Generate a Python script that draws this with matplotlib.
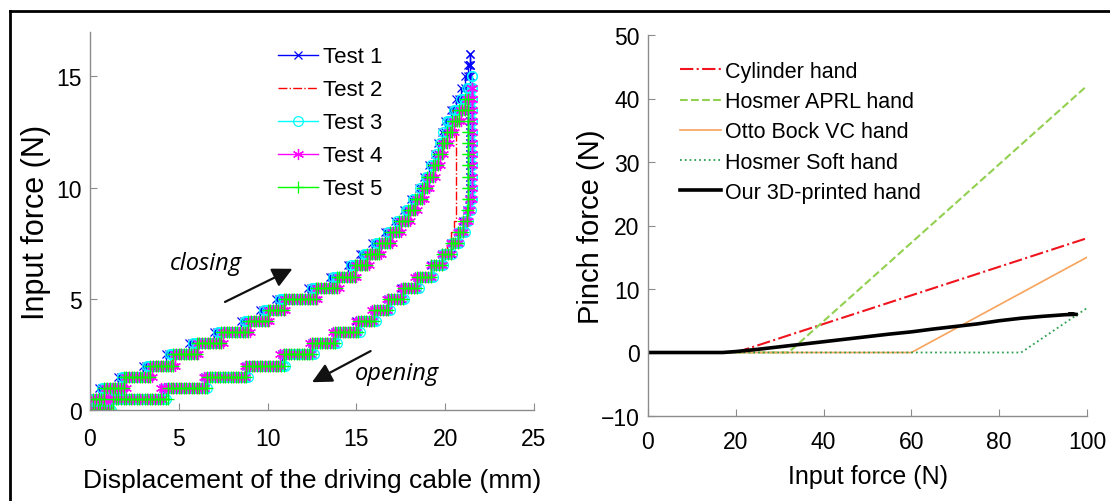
import numpy as np
import matplotlib.pyplot as plt
from matplotlib.lines import Line2D

plt.rcParams['font.family'] = ['Liberation Sans', 'DejaVu Sans']

# ---- left panel: cable displacement (mm) where each 0.5 N force step starts
force_levels = [0.0, 0.5, 1.0, 1.5, 2.0, 2.5, 3.0, 3.5, 4.0, 4.5, 5.0, 5.5, 6.0,
                6.5, 7.0, 7.5, 8.0, 8.5, 9.0, 9.5, 10.0, 10.5, 11.0, 11.5, 12.0,
                12.5, 13.0, 13.5, 14.0, 14.5, 15.0, 15.5, 16.0]

# closing: displacement where level 0.5, 1.0, ... starts
t1_close = [0.0, 0.5, 1.6, 3.0, 4.3, 5.6, 7.0, 8.5, 9.6, 10.5, 12.3, 13.5, 14.5,
            15.2, 15.9, 16.6, 17.2, 17.7, 18.1, 18.5, 18.8, 19.1, 19.4, 19.6,
            19.8, 20.0, 20.3, 20.6, 20.9, 21.1, 21.3, 21.4]
t2_close = [0.0, 0.8, 1.9, 3.3, 4.6, 5.9, 7.3, 8.8, 9.9, 10.8, 12.6, 13.8, 14.8,
            15.5, 16.2, 16.9, 17.4, 17.9, 18.3, 18.7, 19.0, 19.3, 19.6, 19.8,
            20.0, 20.2, 20.4]
t3_close = [0.0, 0.7, 1.8, 3.2, 4.5, 5.8, 7.2, 8.7, 9.8, 10.7, 12.5, 13.7, 14.7,
            15.4, 16.1, 16.8, 17.3, 17.8, 18.2, 18.6, 18.9, 19.2, 19.5, 19.7,
            19.9, 20.1, 20.5, 20.9, 21.2, 21.5]
t4_close = [0.0, 0.9, 2.0, 3.5, 4.8, 6.1, 7.5, 9.0, 10.1, 11.0, 12.8, 14.0, 15.0,
            15.7, 16.4, 17.0, 17.5, 18.0, 18.4, 18.8, 19.1, 19.4, 19.7, 19.9,
            20.2, 20.5, 20.9, 21.2, 21.5]
t5_close = [0.0, 0.8, 1.9, 3.4, 4.7, 6.0, 7.4, 8.9, 10.0, 10.9, 12.7, 13.9, 14.9,
            15.6, 16.3, 16.9, 17.4, 17.9, 18.3, 18.7, 19.0, 19.3, 19.6, 19.8,
            20.1, 20.4, 20.8, 21.1]

# opening: displacement where each level (going down from the peak) starts
t1_open = [21.4] * 13 + [21.35, 21.25, 21.0, 20.7, 20.3, 19.8, 19.2, 18.4, 17.5,
                         16.8, 16.0, 15.0, 13.8, 12.5, 10.8, 8.8, 6.5, 4.1, 0.9]
t2_open = [20.6] * 9 + [20.6, 20.5, 20.3, 20.1, 19.8, 19.3, 18.5, 17.6, 16.9,
                        16.1, 15.1, 13.9, 12.6, 10.9, 8.9, 6.6, 4.3, 1.1]
t3_open = [21.5] * 11 + [21.45, 21.3, 21.1, 20.8, 20.4, 19.9, 19.3, 18.5, 17.7,
                         16.9, 16.1, 15.2, 13.9, 12.6, 11.0, 8.9, 6.6, 4.3, 1.2]
t4_open = [21.5] * 10 + [21.4, 21.3, 21.0, 20.7, 20.3, 19.8, 19.2, 18.3, 17.5,
                         16.7, 15.9, 15.0, 13.7, 12.4, 10.7, 8.7, 6.4, 4.0, 1.0]
t5_open = [21.3] * 9 + [21.3, 21.2, 21.0, 20.7, 20.3, 19.8, 19.2, 18.4, 17.6,
                        16.8, 16.0, 15.1, 13.8, 12.5, 10.9, 8.8, 6.6, 4.4, 1.3]

# ---- right panel
cyl_x, cyl_y = [0, 20, 100], [0, 0, 18]
aprl_x, aprl_y = [0, 32, 100], [0, 0, 42]
otto_x, otto_y = [0, 60, 100], [0, 0, 15]
soft_x, soft_y = [0, 85, 100], [0, 0, 7]
ours_x = [0, 10, 17, 20, 25, 30, 35, 40, 45, 50, 55, 60, 65, 70, 75, 80, 85,
          90, 95, 97, 96, 97.5]
ours_y = [0, 0, 0, 0.15, 0.5, 0.9, 1.3, 1.7, 2.1, 2.5, 2.9, 3.25, 3.7, 4.1,
          4.5, 5.0, 5.4, 5.7, 5.95, 6.0, 6.1, 6.0]


def staircase(close_d, open_d, spacing=0.15):
    n = len(close_d)
    d_pts = close_d + open_d + [0.0]
    f_pts = force_levels[1:n + 1] + force_levels[n - 1::-1] + [0.0]
    xs, ys = [], []
    for i in range(len(d_pts) - 1):
        k = max(2, int(round(abs(d_pts[i + 1] - d_pts[i]) / spacing)) + 1)
        xs.extend(np.linspace(d_pts[i], d_pts[i + 1], k))
        ys.extend([f_pts[i]] * k)
    xs.append(d_pts[-1])
    ys.append(f_pts[-1])
    return xs, ys


fig = plt.figure(figsize=(11.1, 5.02), dpi=100)
ax1 = fig.add_axes([90 / 1110, 1 - 411 / 502, 444 / 1110, 378 / 502])
ax2 = fig.add_axes([648 / 1110, 1 - 417 / 502, 439 / 1110, 381 / 502])

asterisk = (6, 2, 0)
tests = [
    (t1_close, t1_open, 'Test 1', dict(color='#0000ff', marker='x', ms=6, ls='-')),
    (t2_close, t2_open, 'Test 2', dict(color='#ff0000', marker=None, ls='-.')),
    (t3_close, t3_open, 'Test 3', dict(color='#00ffff', marker='o', ms=7, mfc='none', ls='-')),
    (t4_close, t4_open, 'Test 4', dict(color='#ff00ff', marker=asterisk, ms=8, ls='-')),
    (t5_close, t5_open, 'Test 5', dict(color='#00ff00', marker='+', ms=9, ls='-')),
]
for close_d, open_d, name, style in tests:
    xs, ys = staircase(close_d, open_d)
    ax1.plot(xs, ys, lw=1.0, mew=0.9, label=name, **style)

ax1.set_xlim(0, 25)
ax1.set_ylim(0, 17)
ax1.set_xticks([0, 5, 10, 15, 20, 25])
ax1.set_yticks([0, 5, 10, 15])
ax1.set_xlabel('Displacement of the driving cable (mm)', fontsize=19, labelpad=13)
ax1.set_ylabel('Input force (N)', fontsize=22, labelpad=4)
ax1.legend(loc='upper left', bbox_to_anchor=(0.423, 0.962), frameon=False,
           fontsize=16, borderpad=0, borderaxespad=0, handlelength=1.8,
           handletextpad=0.22, labelspacing=0.54)

ax1.text(6.5, 6.6, 'closing', fontsize=17, style='italic', family='Open Sans',
         ha='center', va='center')
ax1.annotate('', xy=(11.4, 6.35), xytext=(7.6, 4.86),
             arrowprops=dict(arrowstyle='-|>', color='#111111', lw=1.6,
                             mutation_scale=30, shrinkA=0, shrinkB=0))
ax1.text(17.3, 1.65, 'opening', fontsize=17, style='italic', family='Open Sans',
         ha='center', va='center')
ax1.annotate('', xy=(12.5, 1.25), xytext=(15.8, 2.65),
             arrowprops=dict(arrowstyle='-|>', color='#111111', lw=1.6,
                             mutation_scale=30, shrinkA=0, shrinkB=0))

ax2.plot(cyl_x, cyl_y, color='#f0141e', ls='-.', lw=1.5, label='Cylinder hand')
ax2.plot(aprl_x, aprl_y, color='#92d050', ls='--', lw=1.5, label='Hosmer APRL hand')
ax2.plot(otto_x, otto_y, color='#f7a35c', ls='-', lw=1.2, label='Otto Bock VC hand')
ax2.plot(soft_x, soft_y, color='#2e9e4f', ls=':', lw=1.3, label='Hosmer Soft hand')
ax2.plot(ours_x, ours_y, color='black', ls='-', lw=2.6, label='Our 3D-printed hand')

ax2.set_xlim(0, 100)
ax2.set_ylim(-10, 50)
ax2.set_xticks([0, 20, 40, 60, 80, 100])
ax2.set_yticks([-10, 0, 10, 20, 30, 40, 50])
ax2.set_xlabel('Input force (N)', fontsize=18, labelpad=8)
ax2.set_ylabel('Pinch force (N)', fontsize=21, labelpad=-3)
ax2.legend(loc='upper left', bbox_to_anchor=(0.073, 0.932), frameon=False,
           fontsize=15.5, borderpad=0, borderaxespad=0, handlelength=1.9,
           handletextpad=0.2, labelspacing=0.43)

for ax in (ax1, ax2):
    for side in ('top', 'right'):
        ax.spines[side].set_visible(False)
    for side in ('left', 'bottom'):
        ax.spines[side].set_color('#8c8c8c')
        ax.spines[side].set_linewidth(1.0)
    ax.tick_params(direction='in', length=5, color='#8c8c8c', labelsize=16.5,
                   labelcolor='black')
    ax.tick_params(axis='y', pad=6)
ax1.tick_params(axis='x', pad=12)
ax2.tick_params(axis='x', pad=10)

# outer frame of the figure
fig.add_artist(Line2D([10 / 1110, 10 / 1110], [0, 1 - 12 / 502],
                      transform=fig.transFigure, color='black', lw=2))
fig.add_artist(Line2D([10 / 1110, 1], [1 - 12 / 502, 1 - 12 / 502],
                      transform=fig.transFigure, color='black', lw=2))

fig.savefig('out.png', dpi=100)
